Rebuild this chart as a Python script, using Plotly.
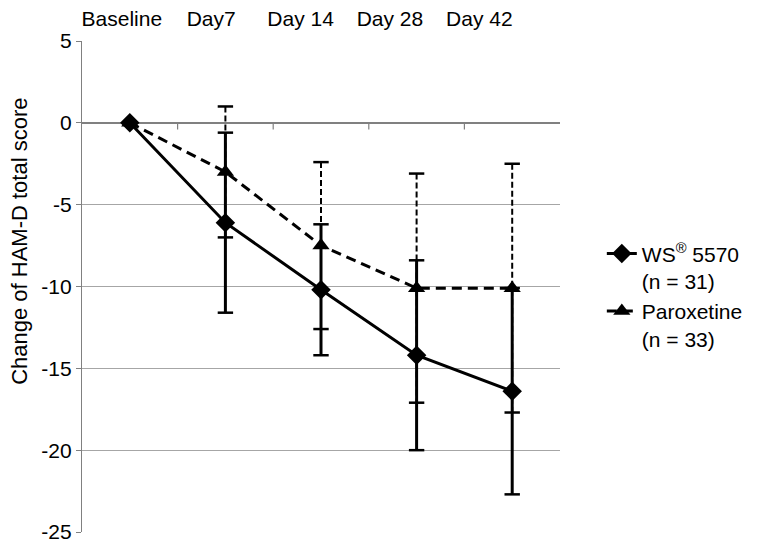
import plotly.graph_objects as go

# visit labels and values
visits = ["Baseline", "Day7", "Day 14", "Day 28", "Day 42"]
ws_mean = [0, -6.1, -10.2, -14.2, -16.4]
ws_err = [0, 5.5, 4.0, 5.8, 6.3]
par_mean = [0, -3.0, -7.5, -10.1, -10.1]
par_err = [0, 4.0, 5.1, 7.0, 7.6]
y_ticks = [5, 0, -5, -10, -15, -20, -25]

pos = list(range(len(visits)))
fam = "Liberation Sans, Arial, sans-serif"
tick_font = dict(family=fam, size=21, color="black")
title_font = dict(family=fam, size=22, color="black")


def error_segments(mean, err):
    xs, ys = [], []
    for x, m, e in zip(pos, mean, err):
        if e == 0:
            continue
        xs += [x, x, None]
        ys += [m + e, m - e, None]
    return xs, ys


fig = go.Figure()

# paroxetine error bars (dashed), drawn first so the solid ones sit on top
px_, py_ = error_segments(par_mean, par_err)
fig.add_trace(go.Scatter(
    x=px_, y=py_, mode="lines+markers", showlegend=False, hoverinfo="skip",
    line=dict(color="black", width=2, dash="6px,3px"),
    marker=dict(symbol="line-ew", size=11, line=dict(color="black", width=2.5))))

wx, wy = error_segments(ws_mean, ws_err)
fig.add_trace(go.Scatter(
    x=wx, y=wy, mode="lines+markers", showlegend=False, hoverinfo="skip",
    line=dict(color="black", width=3),
    marker=dict(symbol="line-ew", size=11, line=dict(color="black", width=2.5))))

fig.add_trace(go.Scatter(
    x=pos, y=ws_mean, mode="lines+markers", name="WS<sup>®</sup> 5570<br>(n = 31)",
    line=dict(color="black", width=3),
    marker=dict(symbol="diamond", size=15, color="black")))

fig.add_trace(go.Scatter(
    x=pos, y=par_mean, mode="lines+markers", name="Paroxetine<br>(n = 33)",
    line=dict(color="black", width=3, dash="10px,6px"),
    marker=dict(symbol="triangle-up", size=15, color="black")))

# empty helper so the top label axis gets drawn
fig.add_trace(go.Scatter(x=[None], y=[None], xaxis="x2", showlegend=False,
                         hoverinfo="skip"))

# small category tick marks on the zero axis line
for b in [i + 0.5 for i in pos[:-1]]:
    fig.add_shape(type="line", xref="x", yref="y", x0=b, x1=b, y0=0, y1=-0.4,
                  line=dict(color="#808080", width=1.2))

# y title sits above the plot centre in the original, so place it by hand
fig.add_annotation(
    text="Change of HAM-D total score", textangle=-90, showarrow=False,
    xref="paper", yref="paper", x=-0.13, y=0.5927,
    xanchor="center", yanchor="middle", font=title_font)

fig.update_layout(
    width=752, height=537,
    margin=dict(l=74, r=198, t=33, b=13),
    paper_bgcolor="white", plot_bgcolor="white",
    font=tick_font,
    xaxis=dict(
        range=[-0.5, 4.5], showticklabels=False, showgrid=False,
        zeroline=False, showline=False, ticks="", automargin=False,
    ),
    xaxis2=dict(
        overlaying="x", side="top", range=[-0.4457, 4.9025],
        tickvals=pos, ticktext=visits, tickfont=tick_font,
        showgrid=False, zeroline=False, showline=False, ticks="",
        ticklabelstandoff=10, automargin=False,
    ),
    yaxis=dict(
        range=[-25, 5], tickvals=y_ticks, ticktext=[str(v) for v in y_ticks],
        showgrid=True, gridcolor="#a6a6a6", gridwidth=1.2,
        zeroline=True, zerolinecolor="#808080", zerolinewidth=1.5,
        showline=True, linecolor="#808080", linewidth=1.2,
        ticks="outside", ticklen=5, tickcolor="#808080",
        tickfont=tick_font, automargin=False,
    ),
    legend=dict(
        x=1.0875, xanchor="left", y=0.48, yanchor="middle",
        font=tick_font, tracegroupgap=0, valign="top",
        bgcolor="rgba(0,0,0,0)",
    ),
    showlegend=True,
)

fig.write_html("out.html")
